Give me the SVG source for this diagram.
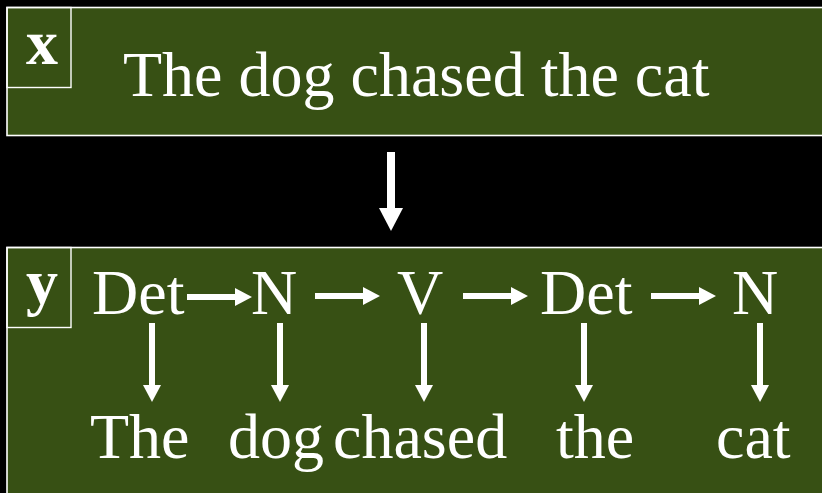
<svg xmlns="http://www.w3.org/2000/svg" width="822" height="493" viewBox="0 0 822 493">
<style>
.box{fill:#375014;stroke:#ffffff;stroke-width:1.6}
.lbl{fill:none;stroke:#ffffff;stroke-width:1.4}
.t{font-family:"Liberation Serif","Times New Roman",serif;font-size:64px;fill:#ffffff}
.b{font-family:"Liberation Serif","Times New Roman",serif;font-size:64px;font-weight:bold;fill:#ffffff}
.c{stroke:#ffffff;stroke-width:6;fill:none}
.cb{stroke:#ffffff;stroke-width:8;fill:none}
</style>
<defs>
<marker id="ah" markerUnits="userSpaceOnUse" viewBox="0 0 17 18" refX="0" refY="9" markerWidth="17" markerHeight="18" orient="auto">
<path d="M0,0 L17,9 L0,18 Z" fill="#ffffff"/>
</marker>
<marker id="ahb" markerUnits="userSpaceOnUse" viewBox="0 0 23 24" refX="0" refY="12" markerWidth="23" markerHeight="24" orient="auto">
<path d="M0,0 L23,12 L0,24 Z" fill="#ffffff"/>
</marker>
</defs>
<rect width="822" height="493" fill="#000000"/>
<g id="x-box">
<rect class="box" x="7" y="7.5" width="830" height="128"/>
<rect class="lbl" x="7" y="7.5" width="64" height="80"/>
<text class="b" x="42" y="64" text-anchor="middle">x</text>
<text class="t" x="123" y="96">The dog chased the cat</text>
</g>
<g id="y-box">
<rect class="box" x="7" y="247.5" width="830" height="260"/>
<rect class="lbl" x="7" y="247.5" width="64" height="80"/>
<text class="b" x="42" y="303" text-anchor="middle">y</text>
</g>
<g id="tag-det1"><text class="t" x="92" y="314">Det</text></g>
<g id="tag-n1"><text class="t" x="251" y="314">N</text></g>
<g id="tag-v"><text class="t" x="397" y="314">V</text></g>
<g id="tag-det2"><text class="t" x="540" y="314">Det</text></g>
<g id="tag-n2"><text class="t" x="732" y="314">N</text></g>
<g id="word-the1"><text class="t" x="90" y="458">The</text></g>
<g id="word-dog"><text class="t" x="228" y="458">dog</text></g>
<g id="word-chased"><text class="t" x="333" y="458">chased</text></g>
<g id="word-the2"><text class="t" x="556" y="458">the</text></g>
<g id="word-cat"><text class="t" x="716" y="458">cat</text></g>
<g id="connectors">
<line class="cb" x1="391" y1="152" x2="391" y2="208" marker-end="url(#ahb)"/>
<line class="c" x1="187" y1="297" x2="235" y2="297" marker-end="url(#ah)"/>
<line class="c" x1="315" y1="296" x2="363" y2="296" marker-end="url(#ah)"/>
<line class="c" x1="463" y1="296" x2="511" y2="296" marker-end="url(#ah)"/>
<line class="c" x1="651" y1="296" x2="699" y2="296" marker-end="url(#ah)"/>
<line class="c" x1="152" y1="323" x2="152" y2="385" marker-end="url(#ah)"/>
<line class="c" x1="280" y1="323" x2="280" y2="385" marker-end="url(#ah)"/>
<line class="c" x1="424" y1="323" x2="424" y2="385" marker-end="url(#ah)"/>
<line class="c" x1="584" y1="323" x2="584" y2="385" marker-end="url(#ah)"/>
<line class="c" x1="760" y1="323" x2="760" y2="385" marker-end="url(#ah)"/>
</g>
</svg>
